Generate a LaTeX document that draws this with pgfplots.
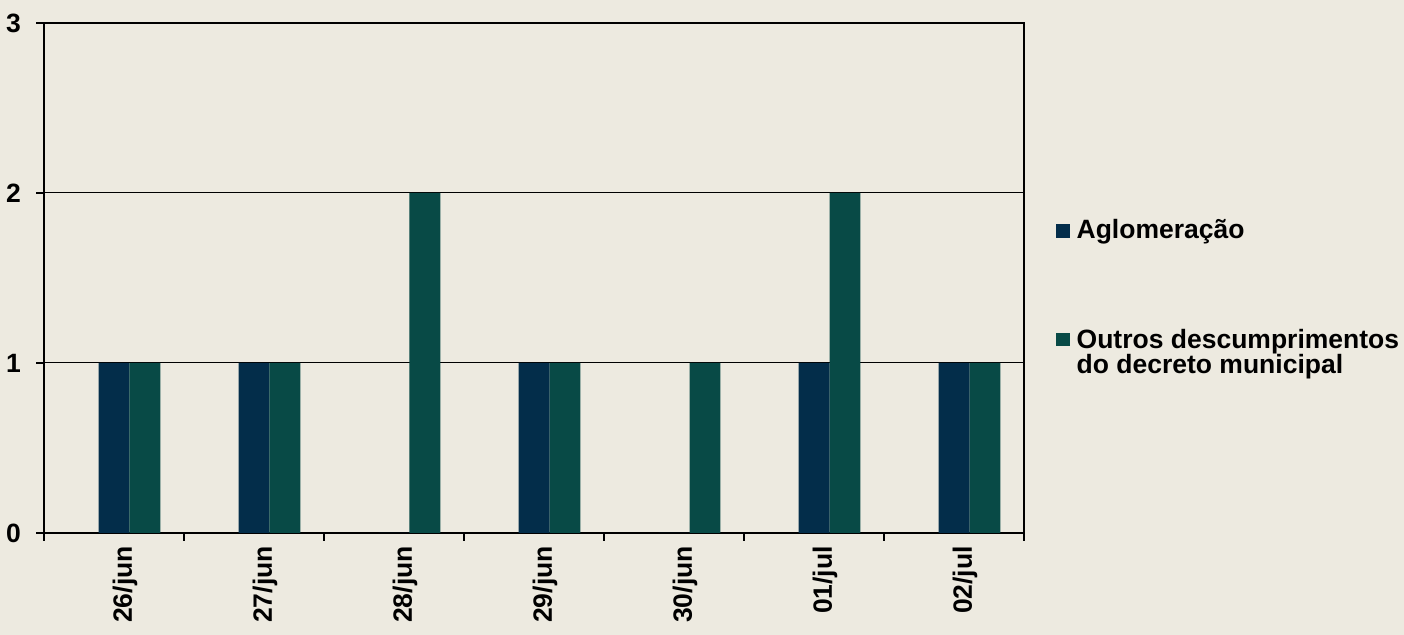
\documentclass[border=0pt]{standalone}
\usepackage{pgfplots}
\pgfplotsset{compat=1.18}
\usepackage{fontspec}
\setmainfont{Liberation Sans}
\definecolor{bgc}{RGB}{237,234,224}
\definecolor{navy}{RGB}{3,45,74}
\definecolor{teal}{RGB}{8,74,70}
\newcommand{\lf}{\fontsize{13.25pt}{15.9pt}\selectfont\bfseries}
\begin{document}
\lf
\begin{tikzpicture}
\fill[bgc] (-22pt,-51pt) rectangle (680pt,266.5pt);
\useasboundingbox (-22pt,-51pt) rectangle (680pt,266.5pt);
\begin{axis}[
  at={(0,0)}, anchor=south west,
  scale only axis, width=490pt, height=255pt,
  xmin=-0.5, xmax=6.5, ymin=0, ymax=3,
  ybar,
  bar width=0.2214,
  xtick={0,...,6},
  xticklabels={26/jun,27/jun,28/jun,29/jun,30/jun,01/jul,02/jul},
  major x tick style={draw=none},
  minor xtick={-0.5,0.5,...,6.5},
  minor tick length=4pt,
  ytick={0,1,2,3},
  major tick length=4pt,
  tick align=outside,
  tick style={black, line width=0.8pt},
  xtick pos=bottom, ytick pos=left,
  ymajorgrids,
  grid style={black, line width=0.5pt},
  axis line style={black, line width=1pt},
  /pgf/number format/assume math mode=true,
  tick label style={font=\lf},
  xticklabel style={rotate=90, anchor=east, xshift=2pt, yshift=-5.5pt},
  yticklabel style={xshift=-3pt},
  legend style={at={(1.0327,0.6235)}, anchor=north west, draw=none, fill=none,
    inner sep=0pt, row sep=38pt,
    font=\lf,
    cells={anchor=west}},
  legend image code/.code={\fill[#1] (0pt,-3.3pt) rectangle (6.6pt,3.3pt);},
]
\addplot[fill=navy, draw=none, bar shift=0] coordinates {(0,1) (1,1) (2,0) (3,1) (4,0) (5,1) (6,1)};
\addlegendentry{\hspace{1.5pt}Aglomeração}
\addplot[fill=teal, draw=none, bar shift=0.2214] coordinates {(0,1) (1,1) (2,2) (3,1) (4,1) (5,2) (6,1)};
\addlegendentry{\hspace{1.5pt}\begin{tabular}[t]{@{}l@{}}Outros descumprimentos\\[-3.4pt]do decreto municipal\end{tabular}}
\end{axis}
\end{tikzpicture}
\end{document}
